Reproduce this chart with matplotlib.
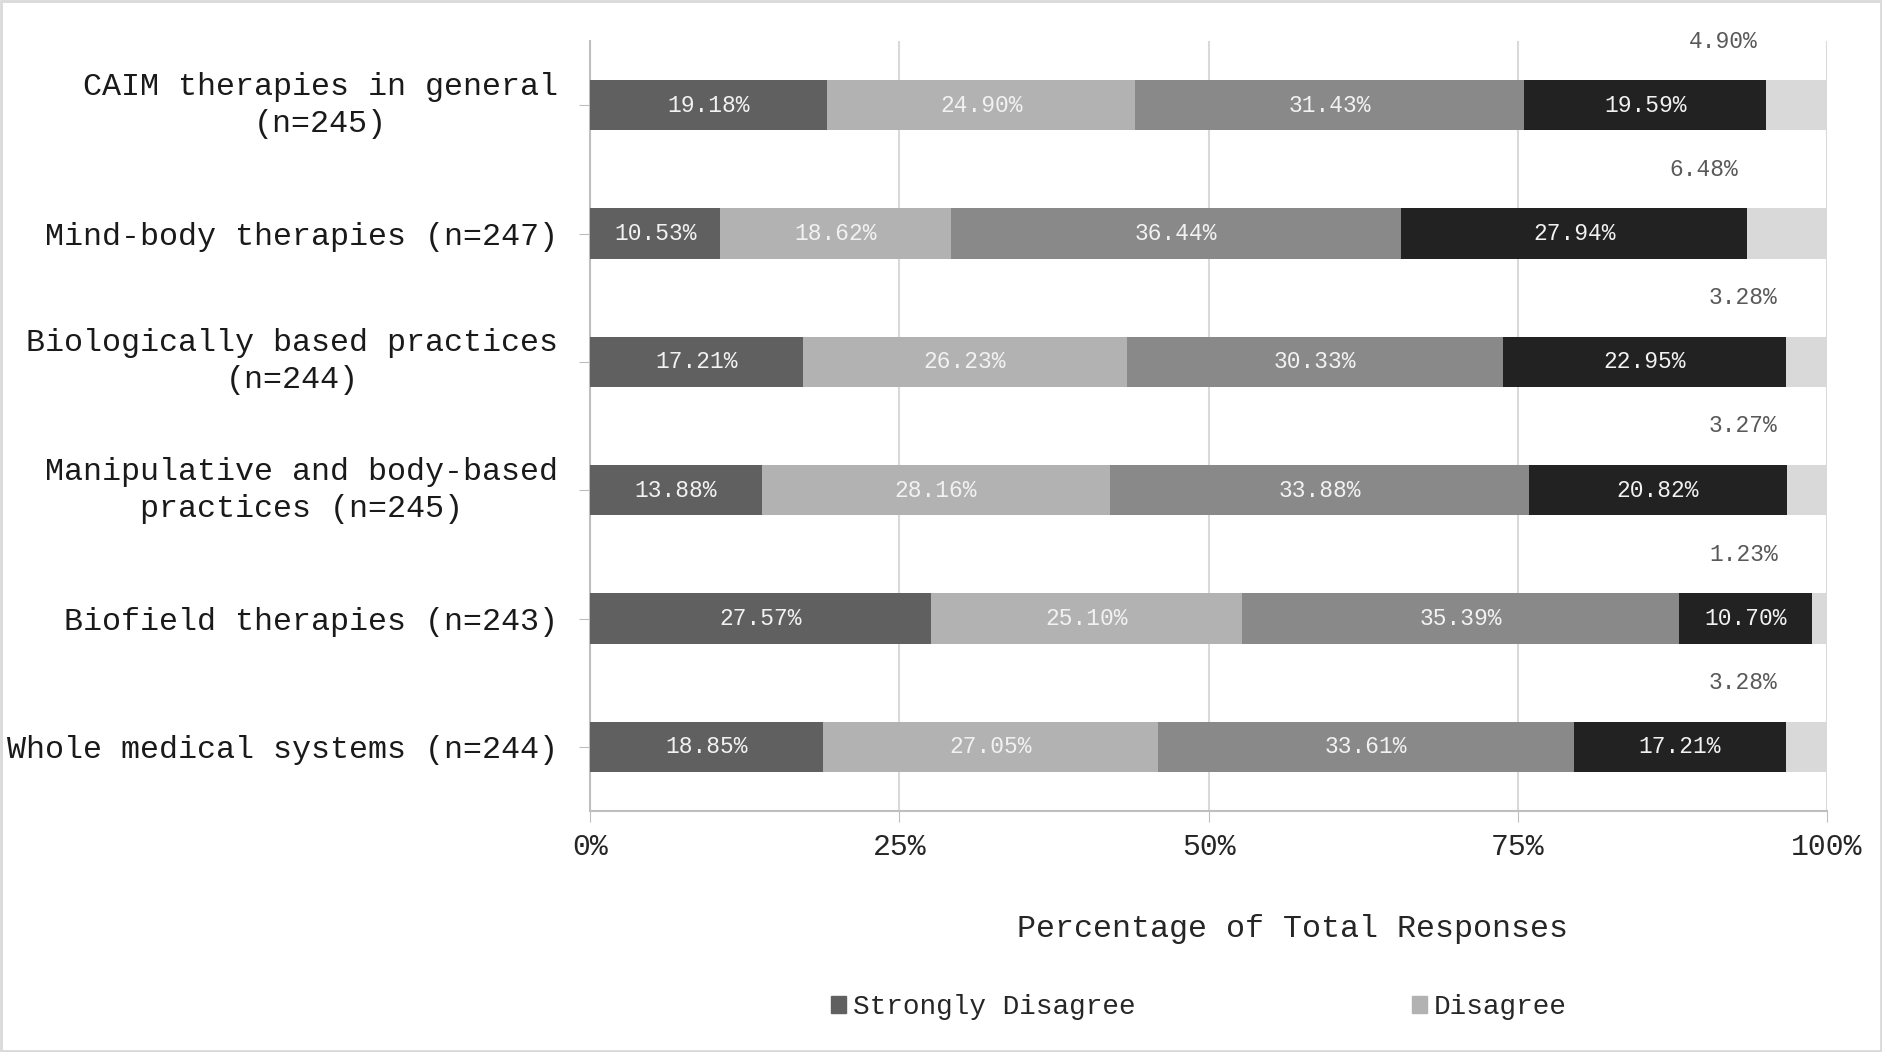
import matplotlib.pyplot as plt
from matplotlib.patches import Patch, Rectangle

plt.rcParams['font.family'] = ['Liberation Mono', 'DejaVu Sans Mono']

categories = [
    "CAIM therapies in general\n(n=245)",
    "Mind-body therapies (n=247)",
    "Biologically based practices\n(n=244)",
    "Manipulative and body-based\npractices (n=245)",
    "Biofield therapies (n=243)",
    "Whole medical systems (n=244)",
]
series_names = ["Strongly Disagree", "Disagree", "Neutral", "Agree", "Strongly Agree"]
strongly_disagree = [19.18, 10.53, 17.21, 13.88, 27.57, 18.85]
disagree = [24.90, 18.62, 26.23, 28.16, 25.10, 27.05]
neutral = [31.43, 36.44, 30.33, 33.88, 35.39, 33.61]
agree = [19.59, 27.94, 22.95, 20.82, 10.70, 17.21]
strongly_agree = [4.90, 6.48, 3.28, 3.27, 1.23, 3.28]
ticks = [0, 25, 50, 75, 100]

series = [strongly_disagree, disagree, neutral, agree, strongly_agree]
colors = ['#606060', '#b2b2b2', '#898989', '#222222', '#d9d9d9']

fig = plt.figure(figsize=(18.82, 10.52), dpi=100)
ax = fig.add_axes([590 / 1882, 1 - 811 / 1052, (1827 - 590) / 1882, (811 - 41) / 1052])

y = list(range(len(categories)))
left = [0] * len(categories)
for k, (vals, col) in enumerate(zip(series, colors)):
    ax.barh(y, vals, left=left, height=0.39, color=col, zorder=3)
    for i, v in enumerate(vals):
        if k < 4:
            ax.text(left[i] + v / 2, i, f"{v:.2f}%", ha='center', va='center',
                    color='#f2f2f2', fontsize=16.5, zorder=4)
        else:
            # last segment labelled above the bar
            ax.text(min(left[i] - 3.5, 93.3), i - 0.5, f"{v:.2f}%", ha='center', va='center',
                    color='#595959', fontsize=16.5, zorder=4)
    left = [a + b for a, b in zip(left, vals)]

ax.set_xlim(0, 100)
ax.set_ylim(len(categories) - 0.5, -0.5)
ax.set_yticks(y)
ax.set_yticklabels(categories, fontsize=22.9, color='#1a1a1a',
                   multialignment='center', linespacing=1.3)
for lab in ax.get_yticklabels():
    if "\n" in lab.get_text():
        lab.set_verticalalignment('center')
ax.tick_params(axis='y', length=8, color='#bfbfbf', pad=15)

ax.set_xticks(ticks)
ax.set_xticklabels([f"{t}%" for t in ticks], fontsize=21.5, color='#262626')
ax.tick_params(axis='x', length=8, color='#bfbfbf', pad=8)
ax.xaxis.grid(True, color='#d9d9d9', linewidth=1.5, zorder=0)
ax.set_axisbelow(True)

for s in ['top', 'right']:
    ax.spines[s].set_visible(False)
for s in ['left', 'bottom']:
    ax.spines[s].set_color('#bfbfbf')
    ax.spines[s].set_linewidth(1.5)

fig.text((846 + 1307) / 2 * 1.2003 / 1882, 1 - 929 / 1052, "Percentage of Total Responses",
         ha='center', va='center', fontsize=22.9, color='#262626')

handles = [Patch(color=colors[0], label=series_names[0]),
           Patch(color=colors[1], label=series_names[1])]
fig.legend(handles=handles, loc='center', bbox_to_anchor=(0.637, 1 - 1007 / 1052),
           ncol=2, frameon=False, fontsize=20, handlelength=0.55, handleheight=0.55,
           handletextpad=0.25, columnspacing=9.95, labelcolor='#262626')

fig.patches.append(Rectangle((0.0005, 0.001), 0.999, 0.998, transform=fig.transFigure,
                             fill=False, edgecolor='#d9d9d9', linewidth=2))

fig.savefig('out.png', dpi=100)
